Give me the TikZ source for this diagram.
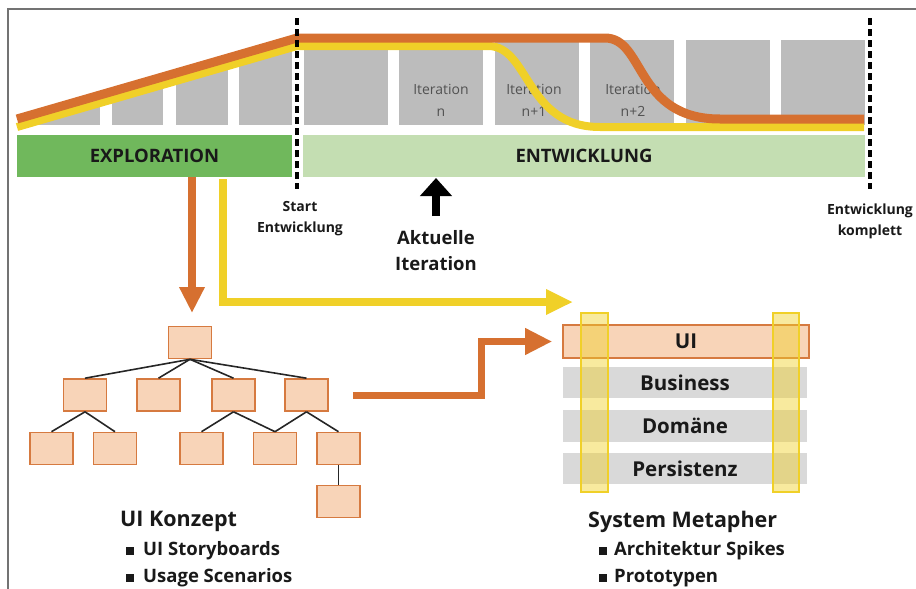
\documentclass[tikz,border=0pt]{standalone}
\usepackage{fontspec}
\setmainfont{Open Sans}
\usetikzlibrary{arrows.meta}
\definecolor{org}{RGB}{214,112,48}
\definecolor{ylw}{RGB}{240,208,40}
\definecolor{gbox}{RGB}{188,188,188}
\definecolor{glayer}{RGB}{217,217,217}
\definecolor{gdark}{RGB}{112,184,92}
\definecolor{glight}{RGB}{196,222,178}
\definecolor{peach}{RGB}{248,212,184}
\definecolor{peachb}{RGB}{214,122,64}
\definecolor{txt}{RGB}{25,25,25}
\begin{document}
\begin{tikzpicture}[x=1pt,y=-1pt,
  itbox/.style={fill=gbox,draw=none,minimum width=84pt,minimum height=85pt,inner sep=0pt},
  ittext/.style={align=center,text=black!68,font=\fontsize{14}{22}\selectfont},
  phase/.style={draw=none,inner sep=0pt,minimum height=42pt,text=txt,font=\bfseries\fontsize{18.5}{22}\selectfont},
  dashln/.style={line width=3.5pt,dash pattern=on 7pt off 4pt,black},
  lbl/.style={align=center,text=txt,font=\bfseries\fontsize{14}{21}\selectfont},
  treebox/.style={draw=peachb,fill=peach,line width=1.6pt,minimum width=43pt,minimum height=32pt,inner sep=0pt},
  treeln/.style={draw=black!85,line width=1.6pt},
  layer/.style={fill=glayer,draw=none,minimum width=244pt,minimum height=31pt,inner sep=0pt,text=txt,font=\bfseries\fontsize{20.5}{24}\selectfont},
  ybar/.style={fill=ylw,fill opacity=0.45,draw=ylw,line width=1.5pt},
  title/.style={anchor=base west,inner sep=0pt,text=txt,font=\bfseries\fontsize{21.5}{26}\selectfont},
  bullet/.style={anchor=base west,inner sep=0pt,text=txt,font=\bfseries\fontsize{18.5}{22}\selectfont},
]
\useasboundingbox (0,0) rectangle (916,589);
% frame
\draw[black!55,line width=1.5pt] (8,589) -- (8,9) -- (916,9);

% exploration boxes clipped under the slope
\begin{scope}
  \clip (10,130) -- (297,48) -- (297,130) -- cycle;
  \fill[gbox] (17,40) rectangle (100,125);
  \fill[gbox] (112,40) rectangle (163,125);
  \fill[gbox] (176,40) rectangle (228,125);
  \fill[gbox] (239,40) rectangle (292,125);
\end{scope}

% development boxes
\node[itbox] (d1) at (345.5,82.5) {};
\node[itbox] (d2) at (441,82.5) {};
\node[itbox] (d3) at (536.5,82.5) {};
\node[itbox] (d4) at (632,82.5) {};
\node[itbox] (d5) at (727.5,82.5) {};
\node[itbox] (d6) at (823,82.5) {};
\node[ittext] (t2) at (441,100) {Iteration\\n};
\node[ittext] (t3) at (534,100) {Iteration\\n+1};
\node[ittext] (t4) at (633,100) {Iteration\\n+2};

% effort curves
\draw[ylw,line width=8pt,line join=round] (17,127) -- (297,46) -- (488,46)
  .. controls (530,46) and (525,127) .. (600,127) -- (864,127);
\draw[org,line width=9pt,line join=round] (17,119) -- (297,38) -- (605,38)
  .. controls (645,38) and (635,119) .. (720,119) -- (864,119);

% phase bars
\node[phase,fill=gdark,minimum width=275pt] (expl) at (154.5,156) {EXPLORATION};
\node[phase,fill=glight,minimum width=562pt] (entw) at (584,156) {ENTWICKLUNG};

% dashed milestones
\coordinate (ms1a) at (297,18); \coordinate (ms1b) at (297,189);
\coordinate (ms2a) at (870,18); \coordinate (ms2b) at (870,189);
\draw[dashln] (ms1a) -- (ms1b);
\draw[dashln] (ms2a) -- (ms2b);
\node[lbl] (start) at (300,219) {Start\\Entwicklung};
\node[lbl] (komp) at (870,221) {Entwicklung\\komplett};

% current iteration arrow
\coordinate (akA) at (436,216); \coordinate (akB) at (436,178);
\draw[black,line width=8pt,-{Triangle[width=31pt,length=18pt]}] (akA) -- (akB);
\node[lbl,font=\bfseries\fontsize{18.5}{26}\selectfont] (akt) at (436,251) {Aktuelle\\Iteration};

% tree
\node[treebox] (r) at (190,342.5) {};
\node[treebox] (a) at (85,395) {};
\node[treebox] (b) at (158.5,395) {};
\node[treebox] (c) at (233.5,395) {};
\node[treebox] (d) at (306.5,395) {};
\node[treebox] (a1) at (51.5,448.5) {};
\node[treebox] (a2) at (115,448.5) {};
\node[treebox] (c1) at (201.5,448.5) {};
\node[treebox] (cd) at (275,448.5) {};
\node[treebox] (d2) at (338.5,448.5) {};
\node[treebox] (d3) at (338.5,501.5) {};
\foreach \n in {a,b,c,d} \draw[treeln] (r.south) -- (\n.north);
\draw[treeln] (a.south) -- (a1.north);
\draw[treeln] (a.south) -- (a2.north);
\draw[treeln] (c.south) -- (c1.north);
\draw[treeln] (c.south) -- (cd.north);
\draw[treeln] (d.south) -- (cd.north);
\draw[treeln] (d.south) -- (d2.north);
\draw[treeln] (d2.south) -- (d3.north);

% layers
\node[layer,fill=peach,draw=peachb,line width=1.6pt,minimum width=246pt,minimum height=33pt] (ui) at (686,341.5) {UI};
\node[layer] (bus) at (685,382.5) {Business};
\node[layer,minimum height=32pt] (dom) at (685,426) {Domäne};
\node[layer] (per) at (685,468.5) {Persistenz};
\path[ybar] (581,313) rectangle (608,492);
\path[ybar] (773,313) rectangle (799,492);

% arrows
\coordinate (oTip) at (192,313);
\draw[org,line width=8pt,-{Triangle[width=24pt,length=26pt]}] (expl.south -| oTip) -- (oTip);
\coordinate (yS) at (223,179);
\coordinate (yTip) at (573,302);
\draw[ylw,line width=8pt,-{Triangle[width=24pt,length=27pt]}] (yS) |- (yTip);
\coordinate (oS) at ([xshift=24pt]d.east);
\coordinate (oK) at (481,395);
\draw[org,line width=7pt,-{Triangle[width=25pt,length=27pt]}] (oS) -- (oK) |- ([xshift=-10pt]ui.west);

% captions
\node[title] (uik) at (120,526) {UI Konzept};
\node[bullet] (uib1) at (126,555) {\rule{8pt}{8pt}\hspace{9pt}UI Storyboards};
\node[bullet] (uib2) at (126,582) {\rule{8pt}{8pt}\hspace{9pt}Usage Scenarios};
\node[title] (sm) at (588,527) {System Metapher};
\node[bullet] (smb1) at (599,555) {\rule{8pt}{8pt}\hspace{7pt}Architektur Spikes};
\node[bullet] (smb2) at (599,582) {\rule{8pt}{8pt}\hspace{7pt}Prototypen};
\end{tikzpicture}
\end{document}
